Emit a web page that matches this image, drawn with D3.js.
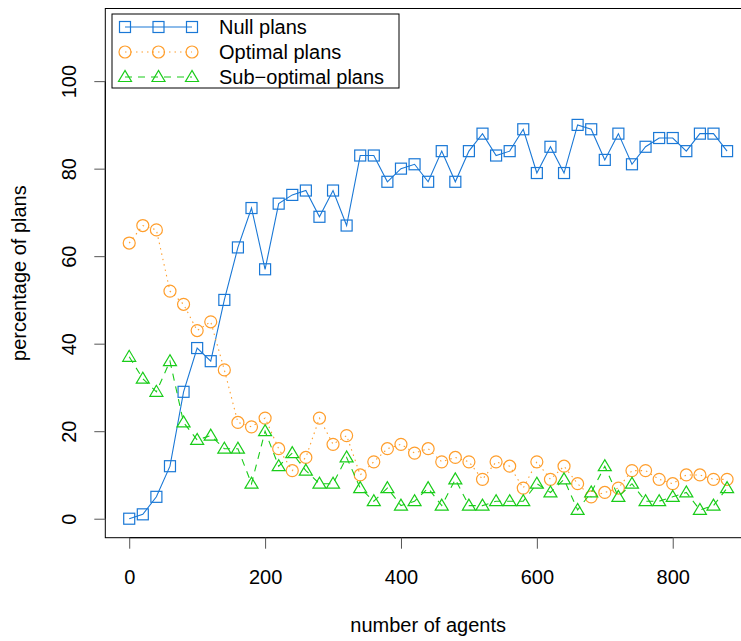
<!DOCTYPE html>
<html>
<head>
<meta charset="utf-8">
<script src="https://cdn.jsdelivr.net/npm/d3@7"></script>
<style>
  html, body { margin: 0; padding: 0; background: #fff; }
  svg { display: block; }
  text { font-family: "Liberation Sans", Arial, Helvetica, sans-serif; fill: #000; }
</style>
</head>
<body>
<svg id="chart" width="741" height="641"></svg>
<script>
// ---- data ----
const agents = [0,20,40,60,80,100,120,140,160,180,200,220,240,260,280,300,320,340,360,380,400,420,440,460,480,500,520,540,560,580,600,620,640,660,680,700,720,740,760,780,800,820,840,860,880];
const nullPlans = [0,1,5,12,29,39,36,50,62,71,57,72,74,75,69,75,67,83,83,77,80,81,77,84,77,84,88,83,84,89,79,85,79,90,89,82,88,81,85,87,87,84,88,88,84];
const optimalPlans = [63,67,66,52,49,43,45,34,22,21,23,16,11,14,23,17,19,10,13,16,17,15,16,13,14,13,9,13,12,7,13,9,12,8,5,6,7,11,11,9,8,10,10,9,9];
const subOptimalPlans = [37,32,29,36,22,18,19,16,16,8,20,12,15,11,8,8,14,7,4,7,3,4,7,3,9,3,3,4,4,4,8,6,9,2,6,12,5,8,4,4,5,6,2,3,7];
const xTicks = [0,200,400,600,800];
const yTicks = [0,20,40,60,80,100];
const seriesNames = ["Null plans","Optimal plans","Sub\u2212optimal plans"];

// ---- layout ----
const svg = d3.select("#chart");
const pLeft = 105.3, pRight = 751, pTop = 8.5, pBottom = 537.7;
const x = d3.scaleLinear().domain([-35.2, 915.2]).range([pLeft, pRight]);
const y = d3.scaleLinear().domain([-4.34, 116.6]).range([pBottom, pTop]);

const series = [
  {name: seriesNames[0], values: nullPlans, color: "#1A78D6", dash: null, shape: "square"},
  {name: seriesNames[1], values: optimalPlans, color: "#FF9E2C", dash: "1.5,4", shape: "circle"},
  {name: seriesNames[2], values: subOptimalPlans, color: "#19CC19", dash: "7,6", shape: "triangle"}
];

function drawSymbol(g, shape, cx, cy, color) {
  if (shape === "square") {
    g.append("rect").attr("x", cx - 5.5).attr("y", cy - 5.5).attr("width", 11).attr("height", 11)
      .attr("fill", "none").attr("stroke", color).attr("stroke-width", 1.2);
  } else if (shape === "circle") {
    g.append("circle").attr("cx", cx).attr("cy", cy).attr("r", 6)
      .attr("fill", "none").attr("stroke", color).attr("stroke-width", 1.2);
  } else {
    const pts = [[cx, cy - 6.5], [cx - 6.5, cy + 4.5], [cx + 6.5, cy + 4.5]];
    g.append("polygon").attr("points", pts.map(p => p.join(",")).join(" "))
      .attr("fill", "none").attr("stroke", color).attr("stroke-width", 1.2);
  }
}

svg.append("clipPath").attr("id", "clip").append("rect")
  .attr("x", pLeft).attr("y", pTop).attr("width", pRight - pLeft).attr("height", pBottom - pTop);

const plot = svg.append("g").attr("clip-path", "url(#clip)");
const line = d3.line().x((d, i) => x(agents[i])).y(d => y(d));

series.forEach(s => {
  plot.append("path").datum(s.values).attr("d", line)
    .attr("fill", "none").attr("stroke", s.color).attr("stroke-width", 1.1)
    .attr("stroke-dasharray", s.dash);
  const g = plot.append("g");
  s.values.forEach((v, i) => drawSymbol(g, s.shape, x(agents[i]), y(v), s.color));
});

// box
svg.append("rect").attr("x", pLeft).attr("y", pTop).attr("width", pRight - pLeft).attr("height", pBottom - pTop)
  .attr("fill", "none").attr("stroke", "#000").attr("stroke-width", 1);

// x axis
const xAxis = d3.axisBottom(x).tickValues(xTicks).tickSize(11).tickPadding(7).tickFormat(d3.format("d"));
const gx = svg.append("g").attr("transform", `translate(0,${pBottom})`).call(xAxis);
gx.select(".domain").attr("d", `M${x(xTicks[0])},0H${x(xTicks[xTicks.length-1])}`).attr("stroke", "#000");
gx.selectAll(".tick line").attr("stroke", "#555");
gx.selectAll(".tick text").attr("font-size", 20).attr("font-family", "Liberation Sans, Arial, sans-serif")
  .attr("fill", "#000").attr("y", 46).attr("dy", null);

// y axis
const yAxis = d3.axisLeft(y).tickValues(yTicks).tickSize(11).tickFormat(d3.format("d"));
const gy = svg.append("g").attr("transform", `translate(${pLeft},0)`).call(yAxis);
gy.select(".domain").attr("d", `M0,${y(yTicks[0])}V${y(yTicks[yTicks.length-1])}`).attr("stroke", "#000");
gy.selectAll(".tick line").attr("stroke", "#555");
gy.selectAll(".tick text")
  .attr("font-size", 20).attr("font-family", "Liberation Sans, Arial, sans-serif").attr("fill", "#000")
  .attr("x", null).attr("dy", null)
  .attr("text-anchor", "middle")
  .attr("transform", `translate(${76 - pLeft},0) rotate(-90)`);

// axis titles
svg.append("text").attr("x", (pLeft + pRight) / 2).attr("y", 632).attr("text-anchor", "middle")
  .attr("font-size", 20).text("number of agents");
svg.append("text").attr("transform", `translate(26,${(pTop + pBottom) / 2}) rotate(-90)`)
  .attr("text-anchor", "middle").attr("font-size", 20).text("percentage of plans");

// legend
const lg = svg.append("g");
lg.append("rect").attr("x", 112).attr("y", 14).attr("width", 287).attr("height", 74)
  .attr("fill", "#fff").attr("stroke", "#000").attr("stroke-width", 1);
const legX = [125, 158.5, 192];
series.forEach((s, i) => {
  const cy = 27 + i * 25;
  lg.append("line").attr("x1", legX[0]).attr("x2", legX[2]).attr("y1", cy).attr("y2", cy)
    .attr("stroke", s.color).attr("stroke-width", 1.1).attr("stroke-dasharray", s.dash);
  legX.forEach(lx => drawSymbol(lg, s.shape, lx, cy, s.color));
  lg.append("text").attr("x", 219).attr("y", cy + 7).attr("font-size", 20).text(s.name);
});
</script>
</body>
</html>
